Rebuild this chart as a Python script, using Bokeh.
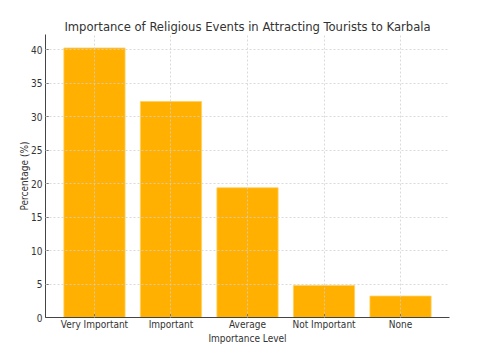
from bokeh.plotting import figure
from bokeh.models import Range1d, FixedTicker
from bokeh.embed import file_html
from bokeh.resources import INLINE

categories = ["Very Important", "Important", "Average", "Not Important", "None"]
values = [40.3, 32.3, 19.4, 4.8, 3.2]
y_ticks = [0, 5, 10, 15, 20, 25, 30, 35, 40]

xs = list(range(len(categories)))
FONT = "DejaVu Sans Condensed, DejaVu Sans"

p = figure(width=472, height=346, output_backend="svg", toolbar_location=None,
           title="Importance of Religious Events in Attracting Tourists to Karbala",
           x_range=Range1d(-0.64, len(categories) - 1 + 0.64),
           y_range=Range1d(0, max(values) * 1.05),
           min_border_left=45, min_border_right=23, min_border_top=34, min_border_bottom=29)

p.vbar(x=xs, top=values, width=0.8, fill_color="#FFB000", line_color="#FFD060", line_width=0.8)

p.title.align = "center"
p.title.text_font = FONT
p.title.text_font_style = "normal"
p.title.text_font_size = "12.9px"
p.title.text_color = "#333333"
p.title.offset = 0
p.title.standoff = 2

p.xaxis.ticker = FixedTicker(ticks=xs)
p.xaxis.major_label_overrides = {i: c for i, c in enumerate(categories)}
p.yaxis.ticker = FixedTicker(ticks=y_ticks)
p.xaxis.axis_label = "Importance Level"
p.yaxis.axis_label = "Percentage (%)"

for ax in (p.xaxis, p.yaxis):
    ax.major_label_text_font = FONT
    ax.major_label_text_font_size = "10px"
    ax.major_label_text_color = "#333333"
    ax.axis_label_text_font = FONT
    ax.axis_label_text_font_size = "10px"
    ax.axis_label_text_font_style = "normal"
    ax.axis_label_text_color = "#333333"
    ax.axis_line_color = "#444444"
    ax.axis_line_width = 1
    ax.major_tick_in = 3
    ax.major_tick_out = 0
    ax.major_tick_line_color = "#444444"
    ax.minor_tick_line_color = None

p.xaxis.major_label_standoff = 1
p.xaxis.axis_label_standoff = 0
p.yaxis.major_label_standoff = 3
p.yaxis.axis_label_standoff = -2

p.grid.grid_line_color = "#d0d0d0"
p.grid.grid_line_dash = "2 2"
p.grid.grid_line_width = 0.8
p.grid.level = "overlay"
p.outline_line_color = None
p.background_fill_color = "white"
p.border_fill_color = "white"

open("out.html", "w").write(file_html(p, INLINE))
